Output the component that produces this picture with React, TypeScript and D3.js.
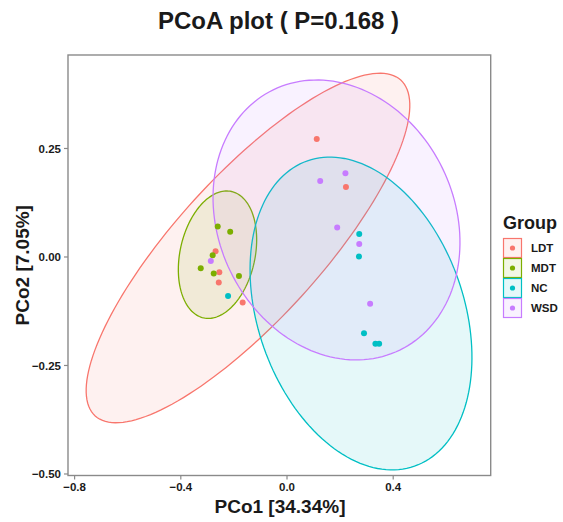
import React from "react";
import * as d3 from "d3";

// ---- data ----
const groups = ["LDT", "MDT", "NC", "WSD"];
const groupColors = ["#F8766D", "#7CAE00", "#00BFC4", "#C77CFF"];

const sampleGroup = [
  "LDT", "LDT", "LDT", "LDT", "LDT", "LDT",
  "MDT", "MDT", "MDT", "MDT", "MDT", "MDT",
  "NC", "NC", "NC", "NC", "NC", "NC",
  "WSD", "WSD", "WSD", "WSD", "WSD", "WSD",
];
const pc1 = [
  0.112, 0.222, -0.269, -0.255, -0.257, -0.167,
  -0.261, -0.214, -0.280, -0.325, -0.276, -0.181,
  -0.222, 0.272, 0.271, 0.290, 0.333, 0.347,
  -0.287, 0.220, 0.125, 0.189, 0.272, 0.313,
];
const pc2 = [
  0.272, 0.161, 0.013, -0.035, -0.059, -0.105,
  0.070, 0.058, 0.004, -0.026, -0.038, -0.044,
  -0.090, 0.053, 0.001, -0.176, -0.200, -0.200,
  -0.009, 0.193, 0.175, 0.068, 0.030, -0.108,
];

// 95% ellipses: centre and two conjugate semi-axis vectors (data units)
const ellipseCx = [-0.147, -0.2618, 0.2787, 0.1864];
const ellipseCy = [0.0207, 0.0053, -0.1302, 0.0853];
const ellipseAx = [0.5755, 0.0524, 0.2015, 0.2384];
const ellipseAy = [0.3869, 0.1456, -0.3518, -0.2998];
const ellipseBx = [-0.2008, -0.1379, 0.3661, 0.3993];
const ellipseBy = [0.1117, 0.01855, 0.0783, 0.1189];

const xTicks = [-0.8, -0.4, 0.0, 0.4];
const xTickLabels = ["\u22120.8", "\u22120.4", "0.0", "0.4"];
const yTicks = [-0.5, -0.25, 0.0, 0.25];
const yTickLabels = ["\u22120.50", "\u22120.25", "0.00", "0.25"];

const titleText = "PCoA plot ( P=0.168 )";
const xLabel = "PCo1 [34.34%]";
const yLabel = "PCo2 [7.05%]";
const legendTitle = "Group";

// ---- layout ----
const W = 563;
const H = 522;
const panel = { left: 68, right: 490.7, top: 55, bottom: 475.5 };
const font = "'Liberation Sans', Arial, Helvetica, sans-serif";

export default function App() {
  const x = d3.scaleLinear().domain([-0.8249, 0.7672]).range([panel.left, panel.right]);
  const y = d3.scaleLinear().domain([-0.5035, 0.4654]).range([panel.bottom, panel.top]);

  const ellipsePath = (i: number) => {
    const n = 160;
    const pts: [number, number][] = d3.range(n).map((k) => {
      const t = (k / n) * Math.PI * 2;
      const dx = ellipseCx[i] + Math.cos(t) * ellipseAx[i] + Math.sin(t) * ellipseBx[i];
      const dy = ellipseCy[i] + Math.cos(t) * ellipseAy[i] + Math.sin(t) * ellipseBy[i];
      return [x(dx), y(dy)];
    });
    return d3.line().curve(d3.curveLinearClosed)(pts) || "";
  };

  const colorOf = (g: string) => groupColors[groups.indexOf(g)];
  const axisColor = "#8a8a8a";
  const textColor = "#1a1a1a";

  return (
    <svg
      width={W}
      height={H}
      style={{ position: "absolute", left: 0, top: 0, background: "#fff" }}
      fontFamily={font}
    >
      <defs>
        <clipPath id="panelClip">
          <rect
            x={panel.left}
            y={panel.top}
            width={panel.right - panel.left}
            height={panel.bottom - panel.top}
          />
        </clipPath>
      </defs>
      <rect x={0} y={0} width={W} height={H} fill="#fff" />

      {/* title */}
      <text x={278.5} y={29} textAnchor="middle" fontSize={24} fontWeight="bold" fill={textColor}>
        {titleText}
      </text>

      {/* ellipses */}
      <g clipPath="url(#panelClip)">
        {groups.map((g, i) => (
          <path
            key={g}
            d={ellipsePath(i)}
            fill={groupColors[i]}
            fillOpacity={0.1}
            stroke={groupColors[i]}
            strokeWidth={1.3}
          />
        ))}
        {pc1.map((v, i) => (
          <circle key={i} cx={x(v)} cy={y(pc2[i])} r={3} fill={colorOf(sampleGroup[i])} />
        ))}
      </g>

      {/* panel border */}
      <rect
        x={panel.left}
        y={panel.top}
        width={panel.right - panel.left}
        height={panel.bottom - panel.top}
        fill="none"
        stroke={axisColor}
        strokeWidth={1.4}
      />

      {/* x axis */}
      {xTicks.map((t, i) => (
        <g key={t}>
          <line x1={x(t)} x2={x(t)} y1={panel.bottom} y2={panel.bottom + 4} stroke={axisColor} strokeWidth={1.2} />
          <text x={x(t)} y={491} textAnchor="middle" fontSize={11.5} fontWeight="bold" fill={textColor}>
            {xTickLabels[i]}
          </text>
        </g>
      ))}
      {/* y axis */}
      {yTicks.map((t, i) => (
        <g key={t}>
          <line x1={panel.left - 4} x2={panel.left} y1={y(t)} y2={y(t)} stroke={axisColor} strokeWidth={1.2} />
          <text x={61} y={y(t)} dy="0.35em" textAnchor="end" fontSize={11.5} fontWeight="bold" fill={textColor}>
            {yTickLabels[i]}
          </text>
        </g>
      ))}

      {/* axis titles */}
      <text x={280} y={513} textAnchor="middle" fontSize={19} fontWeight="bold" fill={textColor}>
        {xLabel}
      </text>
      <text
        transform={`translate(29,${(panel.top + panel.bottom) / 2}) rotate(-90)`}
        textAnchor="middle"
        fontSize={19}
        fontWeight="bold"
        fill={textColor}
      >
        {yLabel}
      </text>

      {/* legend */}
      <text x={503} y={228.5} fontSize={18} fontWeight="bold" fill={textColor}>
        {legendTitle}
      </text>
      {groups.map((g, i) => {
        const top = 238.5 + i * 20;
        return (
          <g key={g}>
            <rect
              x={503.5}
              y={top}
              width={18}
              height={19}
              fill={groupColors[i]}
              fillOpacity={0.1}
              stroke={groupColors[i]}
              strokeWidth={1.2}
            />
            <circle cx={512.5} cy={top + 9.5} r={2.6} fill={groupColors[i]} />
            <text x={531} y={top + 9.5} dy="0.35em" fontSize={11.5} fontWeight="bold" fill={textColor}>
              {g}
            </text>
          </g>
        );
      })}
    </svg>
  );
}
